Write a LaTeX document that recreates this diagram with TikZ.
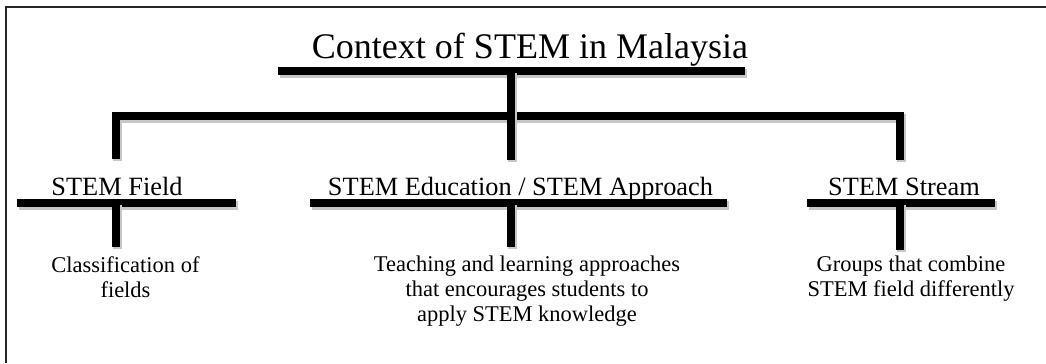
\documentclass[tikz,border=0pt]{standalone}
\usepackage{fontspec}
\setmainfont{Liberation Serif}
\usetikzlibrary{positioning,calc}

\tikzset{
  bar/.style={line width=4pt, line cap=butt, line join=miter,
    preaction={draw=black!22, line width=5pt,
      transform canvas={shift={(0.9pt,-1.4pt)}}}},
  headtext/.style={font=\fontsize{20.5}{24}\selectfont, inner sep=0pt},
  labeltext/.style={font=\fontsize{15}{18}\selectfont, inner sep=0pt},
  desctext/.style={font=\fontsize{12.8}{14.2}\selectfont, inner sep=0pt, align=center}
}

\begin{document}
\begin{tikzpicture}[x=0.02cm,y=-0.02cm]
  \useasboundingbox (0,0) rectangle (1046,363);

  % Frame (only top and left edges fall inside the picture)
  \draw[line width=1.2pt, black!85] (6,363) -- (6,7) -- (1046,7);

  % Title
  \node[headtext, anchor=base] (title) at (530,58) {Context of STEM in Malaysia};
  \coordinate (titleL) at (278,71);
  \coordinate (titleR) at (745,71);
  \coordinate (root) at (511,71);
  \draw[bar] (titleL) -- (titleR);

  % Branches
  \coordinate (hubL) at (116,116);
  \coordinate (hubR) at (900,116);
  \coordinate (fieldtop) at (116,159);
  \coordinate (edutop) at (511,160);
  \coordinate (streamtop) at (900,160);
  \draw[bar] (fieldtop) -- (hubL) -- (hubR) -- (streamtop);
  \draw[bar] (root) -- (edutop);

  % Second level
  \node[labeltext, anchor=base] (field) at (117,195) {STEM Field};
  \node[labeltext, anchor=base] (edu) at (520.5,195) {STEM Education / STEM Approach};
  \node[labeltext, anchor=base] (stream) at (904,195) {STEM Stream};

  \coordinate (fieldL) at (17,203);   \coordinate (fieldR) at (236,203);
  \coordinate (eduL) at (310,203);    \coordinate (eduR) at (727,203);
  \coordinate (streamL) at (807,203); \coordinate (streamR) at (995,203);
  \draw[bar] (fieldL) -- (fieldR);
  \draw[bar] (eduL) -- (eduR);
  \draw[bar] (streamL) -- (streamR);

  % Descriptions
  \node[desctext, anchor=north] (fielddesc) at (125.5,256)
    {Classification of\\fields};
  \node[desctext, anchor=north] (edudesc) at (527,256)
    {Teaching and learning approaches\\that encourages students to\\apply STEM knowledge};
  \node[desctext, anchor=north] (streamdesc) at (911,256)
    {Groups that combine\\STEM field differently};

  \draw[bar] (116,203) -- (116,247);
  \draw[bar] (511,203) -- (511,247);
  \draw[bar] (900,203) -- (900,250);
\end{tikzpicture}
\end{document}
